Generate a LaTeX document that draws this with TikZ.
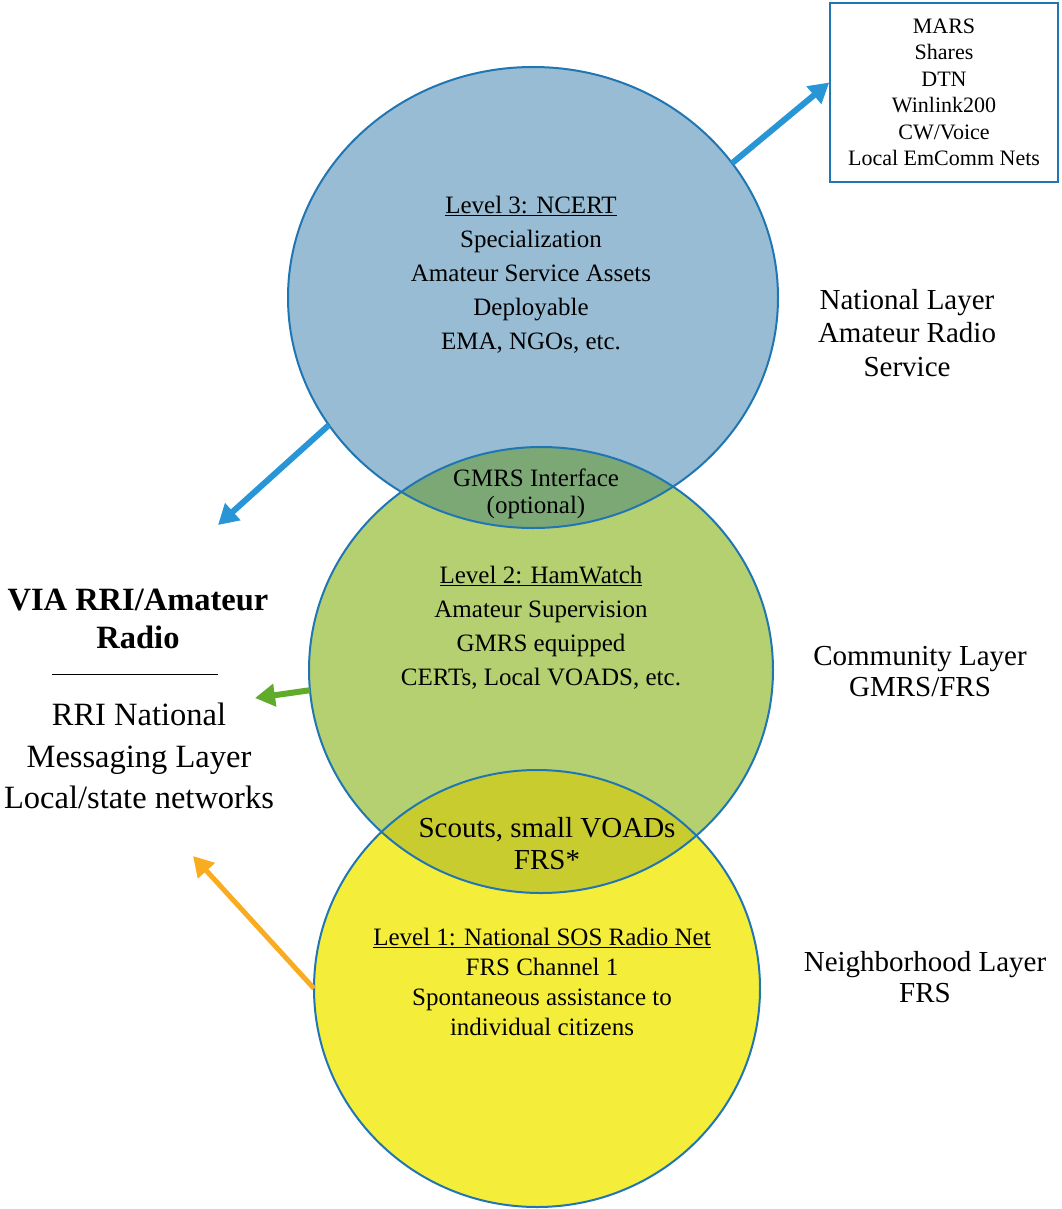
\documentclass[tikz,border=0pt]{standalone}
\usepackage{fontspec}
\setmainfont{Liberation Serif}
\usetikzlibrary{arrows.meta,shapes.geometric}
\definecolor{ncertfill}{RGB}{152,188,212}
\definecolor{hamfill}{RGB}{180,208,112}
\definecolor{sosfill}{RGB}{244,238,58}
\definecolor{gmrslens}{RGB}{124,168,118}
\definecolor{frslens}{RGB}{200,204,46}
\definecolor{rimblue}{RGB}{32,118,178}
\definecolor{arrowblue}{RGB}{40,150,214}
\definecolor{arrowgreen}{RGB}{96,170,44}
\definecolor{arroworange}{RGB}{250,172,32}
\begin{document}
\begin{tikzpicture}[x=1pt,y=-1pt,
    disc/.style={ellipse,inner sep=0pt,outer sep=0pt},
    rim/.style={draw=rimblue,line width=2pt},
    txt/.style={align=center,font=\fontsize{25}{34}\selectfont},
    side/.style={align=center,font=\fontsize{29}{33.5}\selectfont},
    feed/.style={line width=6pt,-{Triangle[length=20pt,width=22pt]}}]
  \useasboundingbox (0,0) rectangle (1061,1209);
  % the three layers
  \node[disc,fill=ncertfill,minimum width=490pt,minimum height=461pt] (ncert) at (533,297.5) {};
  \node[disc,fill=hamfill,minimum width=464pt,minimum height=446pt] (ham) at (541,670) {};
  \node[disc,fill=sosfill,minimum width=446pt,minimum height=437pt] (sos) at (537,988.5) {};
  \begin{scope}
    \clip (ncert.center) ellipse (245pt and 230.5pt);
    \fill[gmrslens] (ham.center) ellipse (232pt and 223pt);
  \end{scope}
  \begin{scope}
    \clip (ham.center) ellipse (232pt and 223pt);
    \fill[frslens] (sos.center) ellipse (223pt and 218.5pt);
  \end{scope}
  \draw[rim] (ncert.center) ellipse (245pt and 230.5pt);
  \draw[rim] (ham.center) ellipse (232pt and 223pt);
  \draw[rim] (sos.center) ellipse (223pt and 218.5pt);
  % texts inside
  \node[txt] (lvl3) at (531,275) {\underline{Level 3: NCERT}\\Specialization\\Amateur Service Assets\\Deployable\\EMA, NGOs, etc.};
  \node[txt,font=\fontsize{25}{27}\selectfont] (gmrs) at (536,494) {GMRS Interface\\(optional)};
  \node[txt] (lvl2) at (541,628) {\underline{Level 2: HamWatch}\\Amateur Supervision\\GMRS equipped\\CERTs, Local VOADS, etc.};
  \node[txt,font=\fontsize{29}{32}\selectfont] (scouts) at (547,844) {Scouts, small VOADs\\FRS*};
  \node[txt,font=\fontsize{25}{30}\selectfont] (lvl1) at (542,982) {\underline{Level 1: National SOS Radio Net}\\FRS Channel 1\\Spontaneous assistance to\\individual citizens};
  % outside
  \node[draw=rimblue,line width=1.5pt,minimum width=228pt,minimum height=179pt,align=center,font=\fontsize{22}{26.5}\selectfont] (mars) at (944,92.5) {MARS\\Shares\\DTN\\Winlink200\\CW/Voice\\Local EmComm Nets};
  \node[side] (natl) at (907,333) {National Layer\\Amateur Radio\\Service};
  \node[side,font=\fontsize{29}{31}\selectfont] (comm) at (920,672) {Community Layer\\GMRS/FRS};
  \node[side,font=\fontsize{29}{31}\selectfont] (hood) at (925,977) {Neighborhood Layer\\FRS};
  \node[align=center,font=\fontsize{32.5}{38}\selectfont\bfseries] (via) at (138,619) {VIA RRI/Amateur\\Radio};
  \draw[line width=1pt] (52,674) -- (218,674);
  \node[align=center,font=\fontsize{32.5}{41.5}\selectfont] (rri) at (139,756) {RRI National\\Messaging Layer\\Local/state networks};
  % arrows
  \coordinate (viatip) at (218,525);
  \coordinate (hamtip) at (255,698);
  \coordinate (sostip) at (193,856);
  \draw[feed,arrowblue] (ncert.34) -- ([yshift=10pt]mars.west);
  \draw[feed,arrowblue] (ncert.212) -- (viatip);
  \draw[feed,arrowgreen] (ham.185) -- (hamtip);
  \draw[feed,arroworange,line width=5pt] (sos.180) -- (sostip);
\end{tikzpicture}
\end{document}
